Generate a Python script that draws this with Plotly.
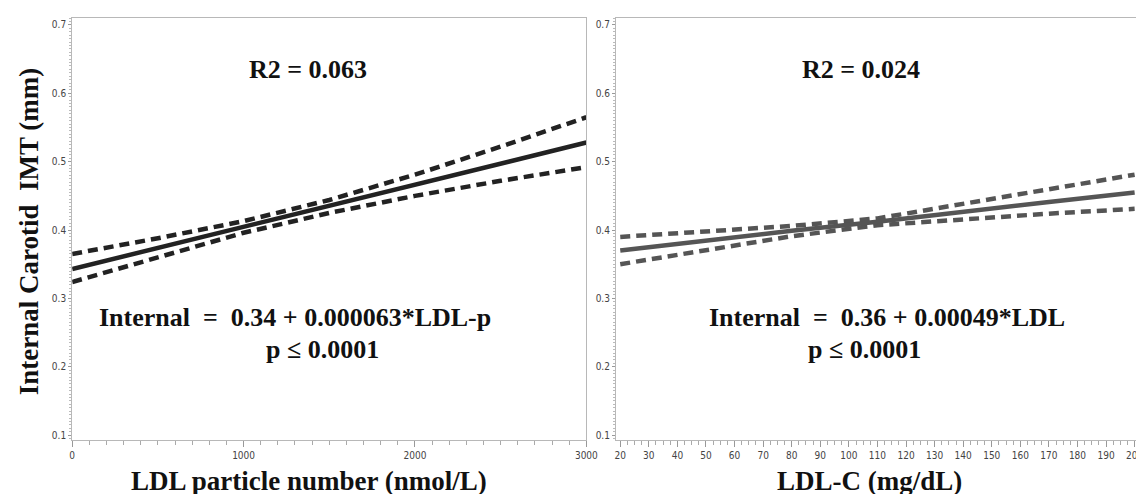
import plotly.graph_objects as go

# ---- data ----
ldlp_x = [0, 500, 1000, 1500, 2000, 2500, 3000]
ldlp_fit = [0.343, 0.374, 0.405, 0.436, 0.466, 0.497, 0.528]
ldlp_upper = [0.365, 0.388, 0.413, 0.444, 0.481, 0.522, 0.565]
ldlp_lower = [0.324, 0.360, 0.396, 0.425, 0.450, 0.472, 0.492]

ldlc_x = [20, 50, 80, 110, 140, 170, 200]
ldlc_fit = [0.370, 0.385, 0.399, 0.412, 0.427, 0.441, 0.455]
ldlc_upper = [0.390, 0.398, 0.406, 0.417, 0.438, 0.459, 0.481]
ldlc_lower = [0.350, 0.370, 0.391, 0.407, 0.416, 0.424, 0.431]

left_ticks = [0, 1000, 2000, 3000]
right_ticks = list(range(20, 201, 10))
y_ticks = [0.1, 0.2, 0.3, 0.4, 0.5, 0.6, 0.7]

W, H = 1144, 494
SERIF = "Liberation Serif, Times New Roman, serif"
NARROW = "Liberation Sans Narrow, Arial Narrow, DejaVu Sans Condensed, sans-serif"

fig = go.Figure()
dark = "#222222"
grey = "#555555"
for ys, dash in [(ldlp_upper, "dash"), (ldlp_lower, "dash"), (ldlp_fit, "solid")]:
    fig.add_trace(go.Scatter(x=ldlp_x, y=ys, mode="lines", xaxis="x", yaxis="y",
                             line=dict(color=dark, width=4.5,
                                       dash="10px,6px" if dash == "dash" else "solid"),
                             showlegend=False, hoverinfo="skip"))
for ys, dash in [(ldlc_upper, "dash"), (ldlc_lower, "dash"), (ldlc_fit, "solid")]:
    fig.add_trace(go.Scatter(x=ldlc_x, y=ys, mode="lines", xaxis="x2", yaxis="y2",
                             line=dict(color=grey, width=4.5,
                                       dash="10px,6px" if dash == "dash" else "solid"),
                             showlegend=False, hoverinfo="skip"))

def px(x):
    return x / W

def py(y):
    return 1 - y / H

ydom = [py(433), py(10)]
axis_common = dict(showline=True, linecolor="#b8b8b8", linewidth=1, mirror=True,
                   showgrid=False, zeroline=False, ticks="outside", tickcolor="#999",
                   tickfont=dict(family=NARROW, size=10, color="#444"))

fig.update_layout(
    width=W, height=H, margin=dict(l=0, r=0, t=0, b=0),
    paper_bgcolor="white", plot_bgcolor="white",
    xaxis=dict(domain=[px(62), px(583)], range=[0, 3000], tickvals=left_ticks,
               ticklen=6, minor=dict(dtick=100, ticklen=4, ticks="outside", tickcolor="#aaa"),
               anchor="y", ticklabelstandoff=0, **axis_common),
    yaxis=dict(domain=ydom, range=[0.0927, 0.7102], tickvals=y_ticks, ticklen=3,
               minor=dict(dtick=0.005, ticklen=2, ticks="outside", tickcolor="#bbb"),
               anchor="x", **axis_common),
    xaxis2=dict(domain=[px(613), px(1140)], range=[18.5, 200.5], tickvals=right_ticks,
                ticklen=6, minor=dict(dtick=2.5, ticklen=4, ticks="outside", tickcolor="#aaa"),
                anchor="y2", ticklabelstandoff=0, **axis_common),
    yaxis2=dict(domain=ydom, range=[0.0927, 0.7102], tickvals=y_ticks, ticklen=3,
                minor=dict(dtick=0.005, ticklen=2, ticks="outside", tickcolor="#bbb"),
                anchor="x2", **axis_common),
)

def ann(text, x, y, size=26, angle=0):
    fig.add_annotation(text=text, x=px(x), y=py(y), xref="paper", yref="paper",
                       showarrow=False, xanchor="center", yanchor="middle", textangle=angle,
                       font=dict(family=SERIF, size=size, color="#111"))

nb = "\u00a0"
ann("<b>R2 = 0.063</b>", 301, 62)
ann("<b>R2 = 0.024</b>", 861, 62)
ann(f"<b>Internal{nb}{nb}={nb}{nb}0.34 + 0.000063*LDL-p</b>", 288, 310)
ann("<b>p ≤ 0.0001</b>", 316, 342)
ann(f"<b>Internal{nb}{nb}={nb}{nb}0.36 + 0.00049*LDL</b>", 888, 310)
ann("<b>p ≤ 0.0001</b>", 865, 342)
ann(f"<b>Internal Carotid{nb}{nb}IMT (mm)</b>", 18, 224, size=27, angle=-90)
ann("<b>LDL particle number (nmol/L)</b>", 302, 474, size=27)
ann("<b>LDL-C (mg/dL)</b>", 870, 474, size=27)

fig.write_html("out.html")
